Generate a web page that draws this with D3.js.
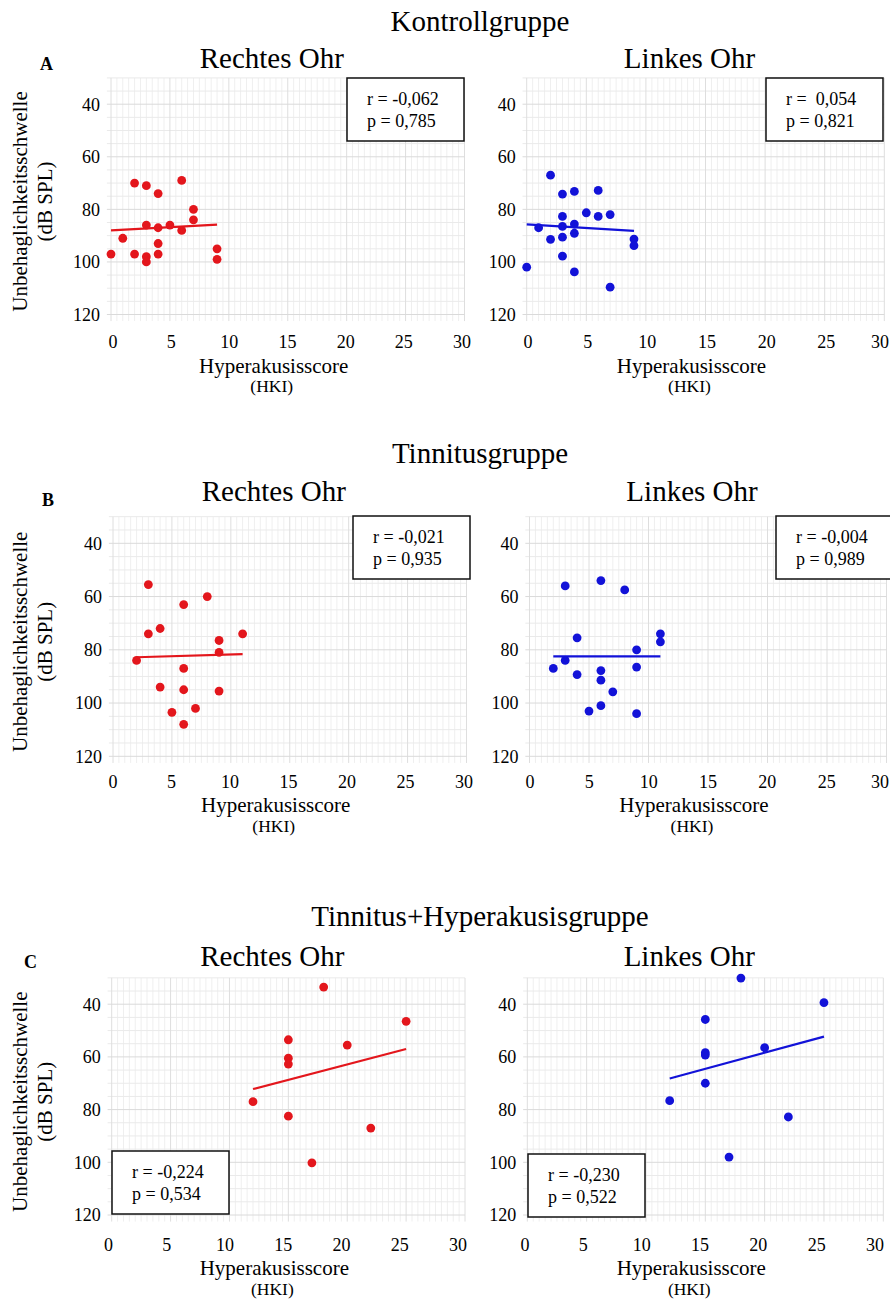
<!DOCTYPE html>
<html><head><meta charset="utf-8">
<script src="https://cdn.jsdelivr.net/npm/d3@7"></script>
<style>
body{margin:0;background:#fff}
svg{display:block}
text{font-family:"Liberation Serif","Times New Roman",serif;fill:#000}
</style>
</head><body>
<svg id="chart" width="890" height="1299"></svg>
<script>
// ---- labels / ticks ----
const xTicks = [0, 5, 10, 15, 20, 25, 30];
const yTicks = [40, 60, 80, 100, 120];
const groupTitles = ["Kontrollgruppe", "Tinnitusgruppe", "Tinnitus+Hyperakusisgruppe"];
const panelLetters = ["A", "B", "C"];
const earTitles = ["Rechtes Ohr", "Linkes Ohr"];
const xTitle = "Hyperakusisscore";
const xSubTitle = "(HKI)";
const yTitle = "Unbehaglichkeitsschwelle";
const ySubTitle = "(dB SPL)";

// ---- data (HKI score, UCL in dB SPL) ----
const kontrollRechtsX = [0, 1, 2, 2, 3, 3, 3, 3, 4, 4, 4, 4, 5, 6, 6, 7, 7, 9, 9];
const kontrollRechtsY = [97, 91, 70, 97, 71, 86, 98, 100, 74, 87, 93, 97, 86, 69, 88, 80, 84, 95, 99];
const kontrollLinksX = [0, 1, 2, 2, 3, 3, 3, 3, 3, 4, 4, 4, 4, 5, 6, 6, 7, 7, 9, 9];
const kontrollLinksY = [102, 87, 67, 91.4, 74.2, 82.7, 86.5, 90.6, 97.8, 73.2, 85.6, 89.1, 103.8, 81.3, 72.8, 82.7, 82, 109.6, 91.3, 93.8];
const tinnitusRechtsX = [3, 8, 6, 4, 3, 11, 9, 9, 2, 6, 4, 6, 9, 7, 5, 6];
const tinnitusRechtsY = [55.5, 60, 63, 72, 74, 74, 76.5, 81, 84, 87, 94, 95, 95.5, 102, 103.5, 108];
const tinnitusLinksX = [3, 6, 8, 4, 11, 11, 9, 3, 2, 9, 6, 4, 6, 7, 6, 5, 9];
const tinnitusLinksY = [56, 54, 57.5, 75.5, 74, 77, 80, 84, 87, 86.5, 87.8, 89.3, 91.4, 95.8, 101, 103, 104];
const thRechtsX = [18, 25, 20, 15, 15, 15, 12, 15, 22, 17];
const thRechtsY = [33.5, 46.5, 55.5, 53.5, 60.5, 62.7, 77, 82.5, 87, 100.2];
const thLinksX = [18, 25, 15, 15, 15, 20, 15, 12, 22, 17];
const thLinksY = [30.1, 39.4, 45.8, 58.4, 59.3, 56.5, 70, 76.6, 82.8, 98];

// regression lines (start / end)
const kontrollRechtsFitX = [0, 9], kontrollRechtsFitY = [88, 85.8];
const kontrollLinksFitX = [0, 9], kontrollLinksFitY = [85.7, 88.2];
const tinnitusRechtsFitX = [2, 11], tinnitusRechtsFitY = [82.8, 81.6];
const tinnitusLinksFitX = [2, 11], tinnitusLinksFitY = [82.5, 82.5];
const thRechtsFitX = [12, 25], thRechtsFitY = [72.2, 57];
const thLinksFitX = [12, 25], thLinksFitY = [68.2, 52.3];

// correlation statistics
const kontrollRechtsStats = ["r = -0,062", "p = 0,785"];
const kontrollLinksStats = ["r =  0,054", "p = 0,821"];
const tinnitusRechtsStats = ["r = -0,021", "p = 0,935"];
const tinnitusLinksStats = ["r = -0,004", "p = 0,989"];
const thRechtsStats = ["r = -0,224", "p = 0,534"];
const thLinksStats = ["r = -0,230", "p = 0,522"];

// ---- layout ----
const RED = "#e3161c", BLUE = "#1212d8";
const rows = [
  { title: groupTitles[0], titleY: 31, letter: panelLetters[0], letterX: 40, letterY: 70, earY: 68,
    y40: 104.2, y120: 314.5, xTickY: 348, xTitleY: 373, xSubY: 392,
    panels: [
      { x0: 111, x30: 464.5, lx: [113, 462], xs: kontrollRechtsX, ys: kontrollRechtsY, fx: kontrollRechtsFitX, fy: kontrollRechtsFitY, stats: kontrollRechtsStats, color: RED, box: [347, 78] },
      { x0: 526.7, x30: 884.3, lx: [528, 886], xs: kontrollLinksX, ys: kontrollLinksY, fx: kontrollLinksFitX, fy: kontrollLinksFitY, stats: kontrollLinksStats, color: BLUE, box: [766, 78] }
    ]},
  { title: groupTitles[1], titleY: 463, letter: panelLetters[1], letterX: 42, letterY: 506, earY: 501,
    y40: 543.3, y120: 756.3, xTickY: 788, xTitleY: 812, xSubY: 832,
    panels: [
      { x0: 113, x30: 466.5, lx: [113, 464], xs: tinnitusRechtsX, ys: tinnitusRechtsY, fx: tinnitusRechtsFitX, fy: tinnitusRechtsFitY, stats: tinnitusRechtsStats, color: RED, box: [353, 516] },
      { x0: 529.5, x30: 886.5, lx: [530, 886], xs: tinnitusLinksX, ys: tinnitusLinksY, fx: tinnitusLinksFitX, fy: tinnitusLinksFitY, stats: tinnitusLinksStats, color: BLUE, box: [776, 516] }
    ]},
  { title: groupTitles[2], titleY: 926, letter: panelLetters[2], letterX: 24, letterY: 968, earY: 966,
    y40: 1004.2, y120: 1215, xTickY: 1251, xTitleY: 1275, xSubY: 1295,
    panels: [
      { x0: 111.7, x30: 465, lx: [108.5, 458], xs: thRechtsX, ys: thRechtsY, fx: thRechtsFitX, fy: thRechtsFitY, stats: thRechtsStats, color: RED, box: [112, 1151] },
      { x0: 527.3, x30: 883.3, lx: [525, 875], xs: thLinksX, ys: thLinksY, fx: thLinksFitX, fy: thLinksFitY, stats: thLinksStats, color: BLUE, box: [528, 1154] }
    ]}
];

const svg = d3.select("#chart");

rows.forEach(row => {
  svg.append("text").attr("x", 480).attr("y", row.titleY).attr("text-anchor", "middle")
    .style("font-size", "29px").text(row.title);
  svg.append("text").attr("x", row.letterX).attr("y", row.letterY)
    .style("font-size", "18px").style("font-weight", "bold").text(row.letter);

  row.panels.forEach((p, ci) => {
    const x = d3.scaleLinear().domain([0, 30]).range([p.x0, p.x30]);
    const xl = d3.scaleLinear().domain([0, 30]).range(p.lx);
    const y = d3.scaleLinear().domain([40, 120]).range([row.y40, row.y120]);
    const g = svg.append("g");
    const yTop = y(30), yBot = y(122.5), xL = x(-0.35), xR = x(30);

    // grid
    const vMinor = d3.range(0, 30.01, 0.5).filter(v => v % 5 !== 0);
    const vMajor = d3.range(0, 30.01, 5);
    const hMinor = d3.range(30, 122.6, 5).filter(v => v % 20 !== 0);
    const hMajor = d3.range(40, 120.01, 20);
    g.selectAll(".vmin").data(vMinor).join("line")
      .attr("x1", d => x(d)).attr("x2", d => x(d)).attr("y1", yTop).attr("y2", yBot)
      .attr("stroke", "#efefef").attr("stroke-width", 1);
    g.selectAll(".hmin").data(hMinor).join("line")
      .attr("x1", xL).attr("x2", xR).attr("y1", d => y(d)).attr("y2", d => y(d))
      .attr("stroke", "#eaeaea").attr("stroke-width", 1);
    g.selectAll(".vmaj").data(vMajor).join("line")
      .attr("x1", d => x(d)).attr("x2", d => x(d)).attr("y1", yTop).attr("y2", yBot)
      .attr("stroke", "#dedede").attr("stroke-width", 1);
    g.selectAll(".hmaj").data(hMajor).join("line")
      .attr("x1", xL).attr("x2", xR).attr("y1", d => y(d)).attr("y2", d => y(d))
      .attr("stroke", "#dadada").attr("stroke-width", 1);

    // axes tick labels
    g.selectAll(".yt").data(yTicks).join("text")
      .attr("x", p.x0 - 11).attr("y", d => y(d)).attr("dy", "0.35em")
      .attr("text-anchor", "end").style("font-size", "18px").text(d => d);
    g.selectAll(".xt").data(xTicks).join("text")
      .attr("x", d => Math.min(xl(d), 880)).attr("y", row.xTickY)
      .attr("text-anchor", "middle").style("font-size", "18px").text(d => d);

    // ear title
    const cx = (p.x0 + p.x30) / 2;
    g.append("text").attr("x", cx - 16).attr("y", row.earY).attr("text-anchor", "middle")
      .style("font-size", "29px").text(earTitles[ci]);
    // x title
    g.append("text").attr("x", cx - 14).attr("y", row.xTitleY).attr("text-anchor", "middle")
      .style("font-size", "21px").text(xTitle);
    g.append("text").attr("x", cx - 16).attr("y", row.xSubY).attr("text-anchor", "middle")
      .style("font-size", "17.5px").text(xSubTitle);

    // y title (left column only)
    if (ci === 0) {
      const yc = y(77);
      g.append("text").attr("transform", `translate(27,${yc}) rotate(-90)`)
        .attr("text-anchor", "middle").style("font-size", "21px").text(yTitle);
      g.append("text").attr("transform", `translate(52,${yc}) rotate(-90)`)
        .attr("text-anchor", "middle").style("font-size", "21px").text(ySubTitle);
    }

    // regression line
    const fit = p.fx.map((v, i) => [v, p.fy[i]]);
    g.append("path").datum(fit)
      .attr("d", d3.line().x(d => x(d[0])).y(d => y(d[1])))
      .attr("stroke", p.color).attr("stroke-width", 2.2).attr("fill", "none");

    // points
    const pts = p.xs.map((v, i) => [v, p.ys[i]]);
    g.selectAll(".pt").data(pts).join("circle")
      .attr("cx", d => x(d[0])).attr("cy", d => y(d[1])).attr("r", 4.4)
      .attr("fill", p.color);

    // stats box
    const [bx, by] = p.box;
    g.append("rect").attr("x", bx).attr("y", by).attr("width", 117).attr("height", 63)
      .attr("fill", "#fff").attr("stroke", "#111").attr("stroke-width", 1.5);
    p.stats.forEach((s, i) => {
      g.append("text").attr("x", bx + 20).attr("y", by + 27 + i * 22)
        .style("font-size", "18px").style("white-space", "pre").text(s);
    });
  });
});
</script>
</body></html>
